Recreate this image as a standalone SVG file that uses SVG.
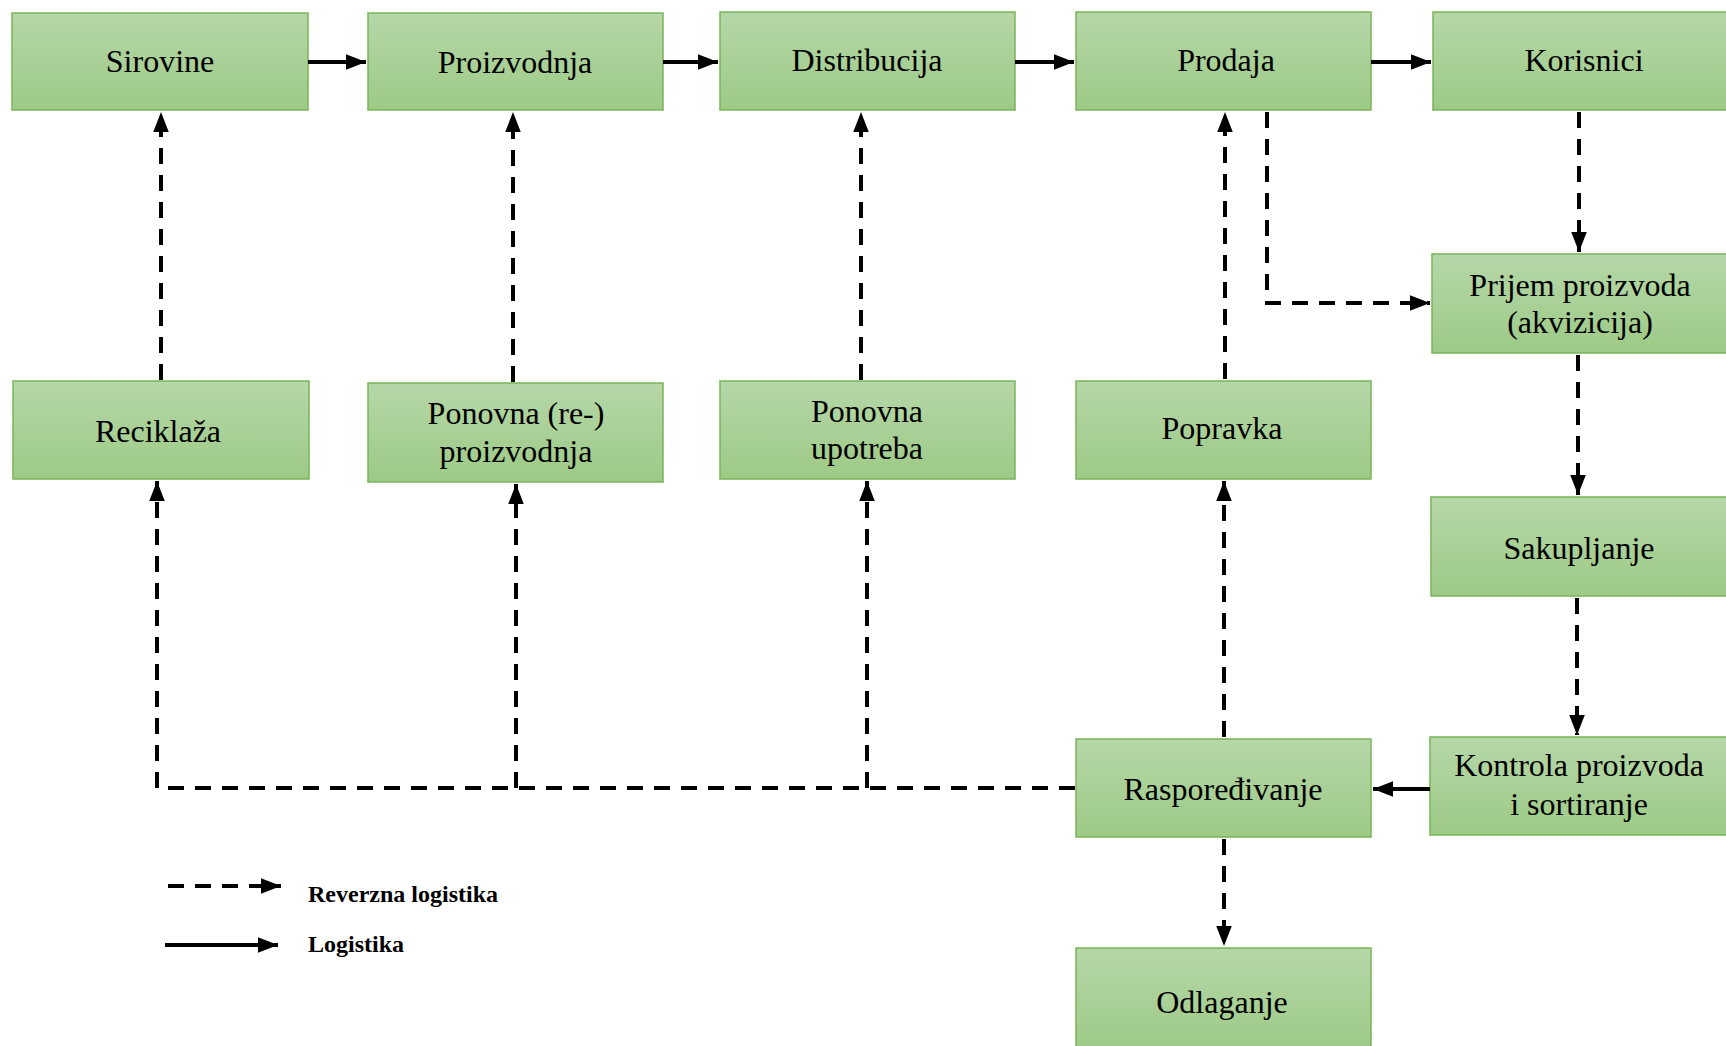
<svg xmlns="http://www.w3.org/2000/svg" width="1726" height="1046" viewBox="0 0 1726 1046">
<defs>
<linearGradient id="g" x1="0" y1="0" x2="0" y2="1">
<stop offset="0" stop-color="#b6d7a8"/>
<stop offset="1" stop-color="#9dca86"/>
</linearGradient>
<marker id="ah" markerUnits="userSpaceOnUse" markerWidth="20" markerHeight="16" viewBox="0 0 18 14" refX="18" refY="7" orient="auto">
<path d="M0,0 L18,7 L0,14 z" fill="#000"/>
</marker>
<style>
.box{fill:url(#g);stroke:#78b458;stroke-width:1.5}
.t{font-family:"Liberation Serif","Times New Roman",serif;font-size:32px;fill:#000;text-anchor:middle}
.lg{font-family:"Liberation Serif","Times New Roman",serif;font-size:24px;font-weight:bold;fill:#000}
.s{fill:none;stroke:#000;stroke-width:4}
.d{fill:none;stroke:#000;stroke-width:4;stroke-dasharray:16,11}
</style>
</defs>
<rect width="1726" height="1046" fill="#fff"/>

<g id="sirovine"><rect class="box" x="12" y="13" width="296" height="97"/><text class="t" x="160" y="72">Sirovine</text></g>
<g id="proizvodnja"><rect class="box" x="368" y="13" width="295" height="97"/><text class="t" x="515" y="73">Proizvodnja</text></g>
<g id="distribucija"><rect class="box" x="720" y="12" width="295" height="98"/><text class="t" x="867" y="71">Distribucija</text></g>
<g id="prodaja"><rect class="box" x="1076" y="12" width="295" height="98"/><text class="t" x="1226" y="71">Prodaja</text></g>
<g id="korisnici"><rect class="box" x="1433" y="12" width="300" height="98"/><text class="t" x="1584" y="71">Korisnici</text></g>
<g id="prijem"><rect class="box" x="1432" y="254" width="300" height="99"/><text class="t" x="1580" y="296">Prijem proizvoda</text><text class="t" x="1580" y="333">(akvizicija)</text></g>
<g id="sakupljanje"><rect class="box" x="1431" y="497" width="300" height="99"/><text class="t" x="1579" y="559">Sakupljanje</text></g>
<g id="kontrola"><rect class="box" x="1430" y="737" width="300" height="98"/><text class="t" x="1579" y="776">Kontrola proizvoda</text><text class="t" x="1579" y="815">i sortiranje</text></g>
<g id="rasporedjivanje"><rect class="box" x="1076" y="739" width="295" height="98"/><text class="t" x="1223" y="800">Raspoređivanje</text></g>
<g id="odlaganje"><rect class="box" x="1076" y="948" width="295" height="104"/><text class="t" x="1222" y="1013">Odlaganje</text></g>
<g id="reciklaza"><rect class="box" x="13" y="381" width="296" height="98"/><text class="t" x="158" y="442">Reciklaža</text></g>
<g id="reproizvodnja"><rect class="box" x="368" y="383" width="295" height="99"/><text class="t" x="516" y="424">Ponovna (re-)</text><text class="t" x="516" y="462">proizvodnja</text></g>
<g id="upotreba"><rect class="box" x="720" y="381" width="295" height="98"/><text class="t" x="867" y="422">Ponovna</text><text class="t" x="867" y="459">upotreba</text></g>
<g id="popravka"><rect class="box" x="1076" y="381" width="295" height="98"/><text class="t" x="1222" y="439">Popravka</text></g>

<g id="connectors">
<path class="s" d="M308,62 H366" marker-end="url(#ah)"/>
<path class="s" d="M663,62 H718" marker-end="url(#ah)"/>
<path class="s" d="M1015,62 H1074" marker-end="url(#ah)"/>
<path class="s" d="M1371,62 H1431" marker-end="url(#ah)"/>
<path class="s" d="M1430,789 H1373" marker-end="url(#ah)"/>

<path class="d" d="M1579,112 V252" marker-end="url(#ah)"/>
<path class="d" d="M1267,112 V303 H1430" marker-end="url(#ah)"/>
<path class="d" d="M1578,355 V495" marker-end="url(#ah)"/>
<path class="d" d="M1577,598 V735" marker-end="url(#ah)"/>
<path class="d" d="M1224,839 V946" marker-end="url(#ah)"/>
<path class="d" d="M1224,737 V481" marker-end="url(#ah)"/>
<path class="d" d="M1225,379 V112" marker-end="url(#ah)"/>

<path class="d" d="M1075,788 H157 V481" marker-end="url(#ah)"/>
<path class="d" d="M516,788 V484" marker-end="url(#ah)"/>
<path class="d" d="M867,788 V481" marker-end="url(#ah)"/>

<path class="d" d="M161,380 V112" marker-end="url(#ah)"/>
<path class="d" d="M513,382 V112" marker-end="url(#ah)"/>
<path class="d" d="M861,380 V112" marker-end="url(#ah)"/>
</g>

<g id="legend">
<path class="d" d="M168,886 H281" marker-end="url(#ah)"/>
<text class="lg" x="308" y="902">Reverzna logistika</text>
<path class="s" d="M165,945 H278" marker-end="url(#ah)"/>
<text class="lg" x="308" y="952">Logistika</text>
</g>
</svg>
